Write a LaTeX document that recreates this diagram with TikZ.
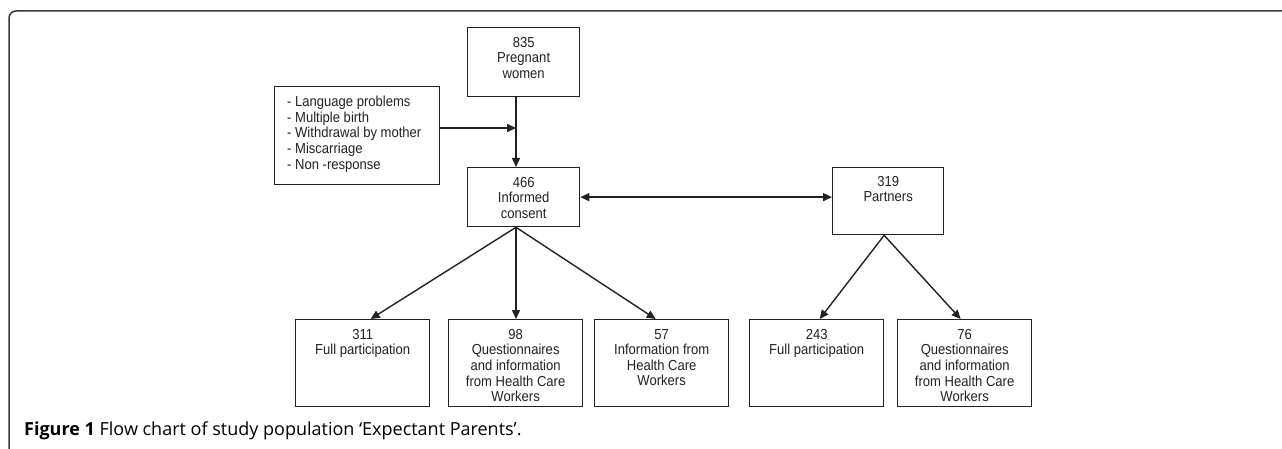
\documentclass[tikz,border=0pt]{standalone}
\usepackage{fontspec}
\newfontfamily\diagfont{Liberation Sans}[FakeStretch=0.9]
\newfontfamily\capfont{Open Sans}
\usetikzlibrary{arrows.meta,calc}
\definecolor{ln}{HTML}{222222}
\tikzset{
  boxnode/.style={draw=ln, line width=1.3pt, rectangle, inner sep=0pt, anchor=north west},
  txt/.style={inner sep=0pt, align=center, anchor=north, text=ln,
    font=\diagfont\fontsize{14.5}{15.6}\selectfont},
  arr/.style={draw=ln, line width=1.4pt, -{Triangle[length=9pt,width=8pt]}},
  arrboth/.style={draw=ln, line width=1.4pt, {Triangle[length=9pt,width=8pt]}-{Triangle[length=9pt,width=8pt]}},
  frameline/.style={draw=ln!90, line width=1.5pt, rounded corners=7pt}
}
\begin{document}
\begin{tikzpicture}[x=1pt,y=-1pt]
\useasboundingbox (0,0) rectangle (1282,449);
% frame
\coordinate (fbl) at (9,449);
\coordinate (ftl) at (9,11);
\coordinate (ftr) at (1282,11);
\draw[frameline] (fbl) -- (ftl) -- (ftr);

% boxes
\node[boxnode, minimum width=112pt, minimum height=69pt] (preg) at (467,27) {};
\node[boxnode, minimum width=165pt, minimum height=98pt] (excl) at (274,86) {};
\node[boxnode, minimum width=112pt, minimum height=59pt] (inf) at (467,167) {};
\node[boxnode, minimum width=111pt, minimum height=67pt] (part) at (832,167) {};
\node[boxnode, minimum width=134pt, minimum height=87pt] (b311) at (295,319) {};
\node[boxnode, minimum width=134pt, minimum height=87pt] (b98) at (448,319) {};
\node[boxnode, minimum width=134pt, minimum height=87pt] (b57) at (594,319) {};
\node[boxnode, minimum width=134pt, minimum height=87pt] (b243) at (749,319) {};
\node[boxnode, minimum width=134pt, minimum height=87pt] (b76) at (897,319) {};

% texts
\node[txt] (tpreg) at ([yshift=-10pt]preg.north) {835\\Pregnant\\women};
\node[txt, anchor=north west, align=left] (texcl) at ([xshift=13pt,yshift=-10pt]excl.north west)
  {- Language problems\\- Multiple birth\\- Withdrawal by mother\\- Miscarriage\\- Non -response};
\node[txt] (tinf) at ([yshift=-10pt]inf.north) {466\\Informed\\consent};
\node[txt] (tpart) at ([yshift=-9pt]part.north) {319\\Partners};
\node[txt] (t311) at ([yshift=-10pt]b311.north) {311\\Full participation};
\node[txt] (t98) at ([yshift=-10pt]b98.north) {98\\Questionnaires\\and information\\from Health Care\\Workers};
\node[txt] (t57) at ([yshift=-10pt]b57.north) {57\\Information from\\Health Care\\Workers};
\node[txt] (t243) at ([yshift=-10pt]b243.north) {243\\Full participation};
\node[txt] (t76) at ([yshift=-10pt]b76.north) {76\\Questionnaires\\and information\\from Health Care\\Workers};

% connectors
\coordinate (join) at (516,128);
\draw[arr] (preg.south -| join) -- (inf.north -| join);
\draw[arr] (excl.east |- join) -- (join);
\draw[arrboth] (inf.east) -- (inf.east -| part.west);
\coordinate (fork) at (inf.south -| join);
\draw[arr] (fork) -- ([xshift=8pt]b311.north);
\draw[arr] (fork) -- (b98.north -| fork);
\draw[arr] (fork) -- ([xshift=-6pt]b57.north);
\coordinate (pfork) at ([xshift=-4pt]part.south);
\draw[arr] (pfork) -- ([xshift=3pt]b243.north);
\draw[arr] (pfork) -- ([xshift=-4pt]b76.north);

% caption
\node[anchor=base west, inner sep=0pt, text=black, font=\capfont\fontsize{18}{22}\selectfont] (cap) at (24,435)
  {\textbf{Figure 1} Flow chart of study population ‘Expectant Parents’.};
\end{tikzpicture}
\end{document}
